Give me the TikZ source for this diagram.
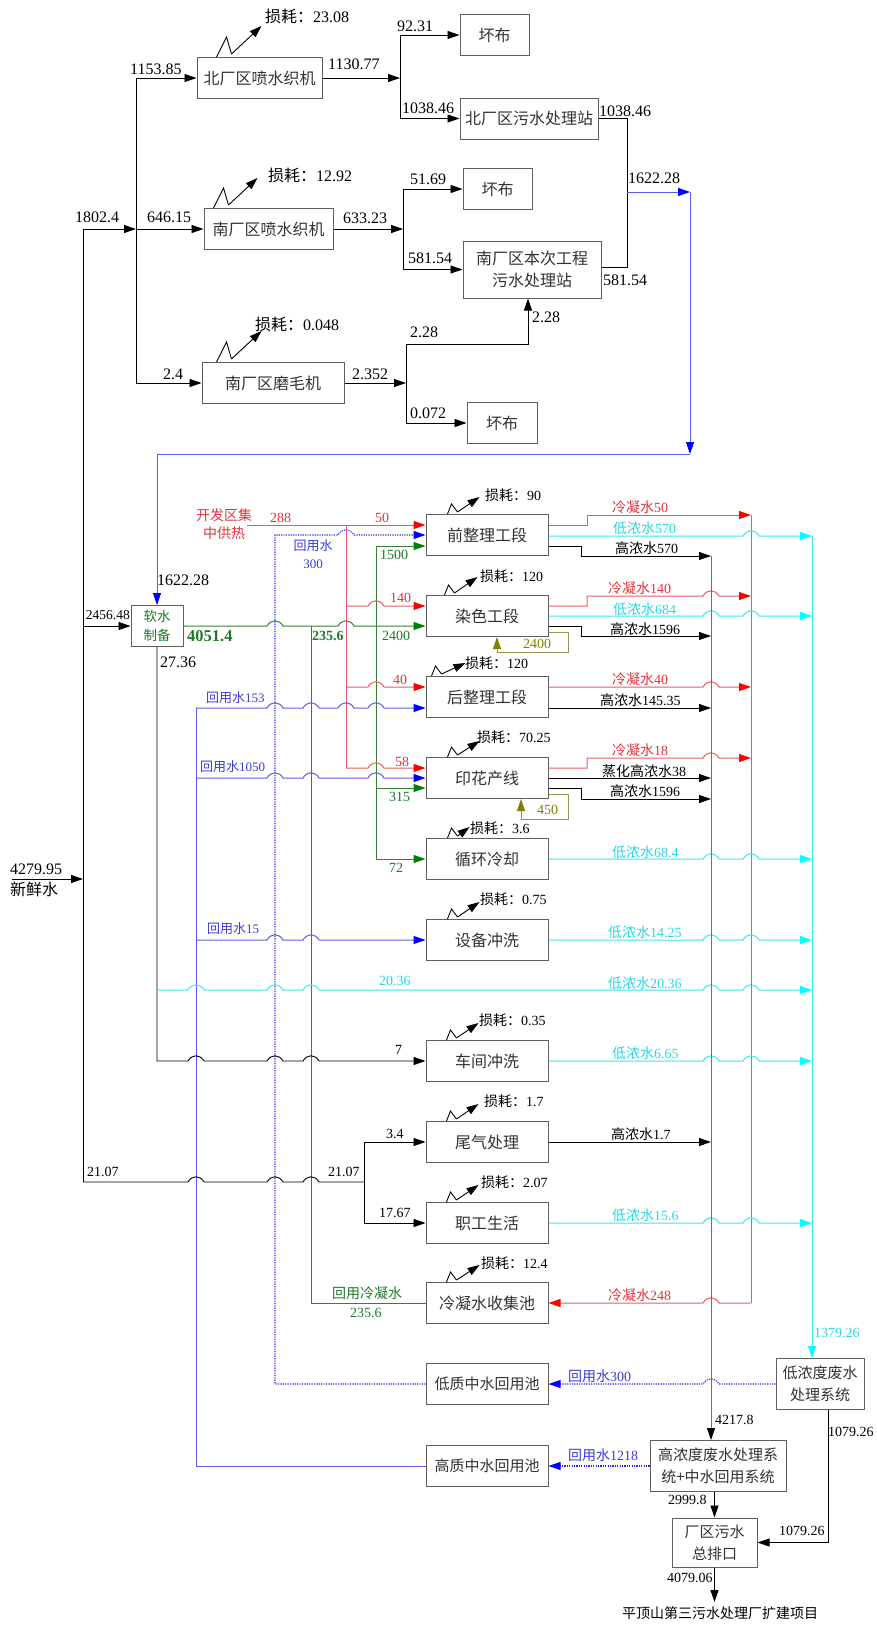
\documentclass[tikz,border=0pt]{standalone}
\usepackage{fontspec}
\setmainfont{Liberation Serif}
\newfontfamily\cjk{Noto Sans CJK SC}
\usetikzlibrary{arrows.meta}
\definecolor{cR}{RGB}{255,0,0}
\definecolor{cRl}{RGB}{235,90,100}
\definecolor{cRt}{RGB}{225,50,60}
\definecolor{cC}{RGB}{0,255,255}
\definecolor{cCl}{RGB}{60,230,235}
\definecolor{cCt}{RGB}{40,215,225}
\definecolor{cB}{RGB}{0,0,255}
\definecolor{cBl}{RGB}{90,90,235}
\definecolor{cBd}{RGB}{40,40,240}
\definecolor{cBt}{RGB}{60,60,210}
\definecolor{cG}{RGB}{0,128,0}
\definecolor{cGl}{RGB}{50,130,50}
\definecolor{cGt}{RGB}{30,120,40}
\definecolor{cO}{RGB}{128,128,0}
\definecolor{cOl}{RGB}{150,150,80}
\definecolor{cK}{RGB}{110,110,110}
\definecolor{cBox}{RGB}{95,95,95}
\definecolor{cTxt}{RGB}{50,50,50}
\newcommand\zh[1]{{\cjk #1}}
\newcommand\jmp[2]{-- ({#1-8},#2) .. controls ({#1-4},{#2-7}) and ({#1+4},{#2-7}) .. ({#1+8},#2)}
\newcommand\jmpl[2]{-- ({#1+8},#2) .. controls ({#1+4},{#2-7}) and ({#1-4},{#2-7}) .. ({#1-8},#2)}
\newcounter{lbc}
\newcommand\lb[3][]{\stepcounter{lbc}\node[lab,#1] (lb\thelbc) at (#2) {#3};}
\newcommand\lossT[4]{\draw[kl] ([xshift=#2pt]#1.north west) -- ++(10,-20) -- ++(5,17) coordinate (#1z); \draw[ka] (#1z) -- ++(#3,#4);}
\newcommand\lossM[4]{\draw[kl] ([xshift=#2pt]#1.north west) -- ++(4,-10) -- ++(6,8) coordinate (#1z); \draw[ka] (#1z) -- ++(#3,#4);}
\begin{document}
\begin{tikzpicture}[x=1pt,y=-1pt,
 kl/.style={draw=black,line width=0.9pt},
 ka/.style={kl,-{Triangle[length=12pt,width=8pt]}},
 gk/.style={draw=cK,line width=1pt,-{Triangle[length=12pt,width=8pt,color=black]}},
 rl/.style={draw=cRl,line width=1pt},
 ra/.style={rl,-{Triangle[length=12pt,width=8pt,color=cR]}},
 cl/.style={draw=cCl,line width=1pt},
 ca/.style={cl,-{Triangle[length=12pt,width=8pt,color=cC]}},
 bll/.style={draw=cBl,line width=1pt},
 bla/.style={bll,-{Triangle[length=12pt,width=8pt,color=cB]}},
 bda/.style={draw=cBd,line width=1.1pt,dash pattern=on 1.2pt off 1.2pt,-{Triangle[length=12pt,width=8pt,color=cB]}},
 gl/.style={draw=cGl,line width=1pt},
 ga/.style={gl,-{Triangle[length=12pt,width=8pt,color=cG]}},
 oa/.style={draw=cOl,line width=1pt,-{Triangle[length=12pt,width=8pt,color=cO]}},
 box/.style={draw=cBox,line width=1pt,inner sep=0pt,minimum height=41pt,align=center,text=cTxt,font=\cjk\fontsize{16}{22}\selectfont},
 boxs/.style={box,font=\cjk\fontsize{15}{22}\selectfont},
 lab/.style={inner sep=0pt,anchor=west,font=\fontsize{14}{18}\selectfont},
 big/.style={font=\fontsize{16}{20}\selectfont},
 sm/.style={font=\fontsize{13}{17}\selectfont}]
\useasboundingbox (0,0) rectangle (877,1625);
% ---------- boxes
\node[box,minimum width=125pt] (bN) at (259.5,78) {北厂区喷水织机};
\node[box,minimum width=129pt] (bS) at (268.5,229) {南厂区喷水织机};
\node[box,minimum width=142pt] (bM) at (273,383) {南厂区磨毛机};
\node[box,minimum width=69pt] (bd1) at (494.5,35) {坏布};
\node[box,minimum width=138pt] (bNW) at (529,118.5) {北厂区污水处理站};
\node[box,minimum width=69pt] (bd2) at (497.5,189) {坏布};
\node[box,minimum width=138pt,minimum height=57pt] (bSW) at (532,269.5) {南厂区本次工程\\污水处理站};
\node[box,minimum width=70pt] (bd3) at (502,423) {坏布};
\node[box,minimum width=52pt,text=cGt,font=\cjk\fontsize{13.5}{19}\selectfont] (soft) at (157,626) {软水\\制备};
\node[box,minimum width=122pt] (qz) at (487,535) {前整理工段};
\node[box,minimum width=122pt] (rs) at (487,616) {染色工段};
\node[box,minimum width=122pt] (hz) at (487,697) {后整理工段};
\node[box,minimum width=122pt] (yh) at (487,778) {印花产线};
\node[box,minimum width=122pt] (xh) at (487,859) {循环冷却};
\node[box,minimum width=122pt] (sb) at (487,940) {设备冲洗};
\node[box,minimum width=122pt] (cj) at (487,1061) {车间冲洗};
\node[box,minimum width=122pt] (wq) at (487,1142) {尾气处理};
\node[box,minimum width=122pt] (zg) at (487,1223) {职工生活};
\node[box,minimum width=122pt] (ln) at (487,1303) {冷凝水收集池};
\node[boxs,minimum width=122pt] (dz) at (487,1384) {低质中水回用池};
\node[boxs,minimum width=122pt] (gz) at (487,1466) {高质中水回用池};
\node[boxs,minimum width=88pt,minimum height=51pt] (low) at (820,1384) {低浓度废水\\处理系统};
\node[boxs,minimum width=136pt,minimum height=51pt] (high) at (718,1466) {高浓度废水处理系\\统+中水回用系统};
\node[boxs,minimum width=85pt,minimum height=49pt] (out) at (714.5,1542.5) {厂区污水\\总排口};
\node[lab,anchor=center,text=cRt,align=center,font=\cjk\fontsize{14}{18}\selectfont] (heat) at (224,524) {开发区集\\中供热};
% ---------- top connectors
\coordinate (a1) at (83,229);
\coordinate (a2) at (136,229);
\coordinate (v1t) at (136,78);
\coordinate (v1b) at (136,383);
\draw[ka] (a1) -- (a2);
\draw[kl] (v1t) -- (v1b);
\draw[ka] (v1t) -- (bN.west);
\draw[ka] (a2) -- (bS.west);
\draw[ka] (v1b) -- (bM.west);
\coordinate (s1) at (400,78);
\coordinate (s1t) at (400,35);
\coordinate (s1b) at (400,118.5);
\draw[ka] (bN.east) -- (s1);
\draw[kl] (s1t) -- (s1b);
\draw[ka] (s1t) -- (bd1.west);
\draw[ka] (s1b) -- (bNW.west);
\coordinate (s2) at (403,229);
\coordinate (s2t) at (403,189);
\coordinate (s2b) at (403,269.5);
\draw[ka] (bS.east) -- (s2);
\draw[kl] (s2t) -- (s2b);
\draw[ka] (s2t) -- (bd2.west);
\draw[ka] (s2b) -- (bSW.west);
\coordinate (s3) at (406,383);
\coordinate (s3t) at (406,344);
\coordinate (s3b) at (406,423);
\coordinate (s3r) at (528,344);
\draw[ka] (bM.east) -- (s3);
\draw[kl] (s3t) -- (s3b);
\draw[ka] (s3t) -- (s3r) -- (s3r |- bSW.south);
\draw[ka] (s3b) -- (bd3.west);
\coordinate (r1) at (627,118.5);
\coordinate (r2) at (627,267);
\draw[kl] (bNW.east) -- (r1) -- (r2) -- (r2 -| bSW.east);
\coordinate (bl0) at (627,192);
\coordinate (bl1) at (690,192);
\coordinate (bl2) at (690,454);
\coordinate (bl3) at (157,454);
\draw[bla] (bl0) -- (bl1);
\draw[bla] (bl1) -- (bl2);
\draw[bla] (bl2) -- (bl3) -- (soft.north);
\lossT{bN}{20}{30}{-28}
\lossT{bS}{10}{29}{-27}
\lossT{bM}{15}{30}{-28}
% ---------- left
\coordinate (a0) at (83,1182);
\coordinate (a3) at (83,626);
\coordinate (fw) at (12,879);
\coordinate (fwj) at (83,879);
\draw[kl] (a1) -- (a0);
\draw[ka] (fw) -- (fwj);
\draw[ka] (a3) -- (soft.west);
% ---------- green
\draw[ga] (soft.east) \jmp{275}{626} \jmp{346}{626} -- (rs.west |- 0,626);
\coordinate (g1) at (376,546);
\coordinate (g2) at (376,859);
\coordinate (g3) at (376,788);
\draw[gl] (g1) -- (g2);
\draw[ga] (g1) -- (qz.west |- g1);
\draw[ga] (g3) -- (yh.west |- g3);
\draw[ga] (g2) -- (xh.west);
\draw[gl] (ln.west) -| (311,626);
% ---------- red
\coordinate (rh) at (247,525);
\coordinate (rvt) at (346,525);
\coordinate (rvb) at (346,768);
\draw[ra] (rh) -- (qz.west |- rh);
\draw[rl] (rvt) -- (rvb);
\draw[ra] (346,606) \jmp{376}{606} -- (rs.west |- 0,606);
\draw[ra] (346,687) \jmp{376}{687} -- (hz.west |- 0,687);
\draw[ra] (rvb) \jmp{376}{768} -- (yh.west |- rvb);
% ---------- blue
\draw[bda] (dz.west) -| (275,535) \jmp{346}{535} -- (qz.west |- 0,535);
\draw[bll] (gz.west) -| (196,708);
\draw[bla] (196,708) \jmp{275}{708} \jmp{311}{708} \jmp{346}{708} \jmp{376}{708} -- (hz.west |- 0,708);
\draw[bla] (196,778) \jmp{275}{778} \jmp{311}{778} \jmp{376}{778} -- (yh.west);
\draw[bla] (196,940) \jmp{275}{940} \jmp{311}{940} -- (sb.west);
% ---------- black / cyan lower left
\draw[ka] (soft.south) -- (157,1061) \jmp{196}{1061} \jmp{275}{1061} \jmp{311}{1061} -- (cj.west);
\draw[ca] (157,990) \jmp{196}{990} \jmp{275}{990} \jmp{311}{990} \jmp{711}{990} \jmp{751}{990} -- (812,990);
\draw[kl] (a0) \jmp{196}{1182} \jmp{275}{1182} \jmp{311}{1182} -- (364,1182);
\coordinate (s4t) at (364,1142);
\coordinate (s4b) at (364,1223);
\draw[kl] (s4t) -- (s4b);
\draw[ka] (s4t) -- (wq.west);
\draw[ka] (s4b) -- (zg.west);
% ---------- right side
\coordinate (rv1) at (751,515);
\coordinate (rv2) at (751,1303);
\coordinate (cv1) at (812,536);
\coordinate (kv1) at (711,556);
\draw[rl] (rv1) -- (rv2);
\draw[ra] (qz.east |- 0,525) -- (587,525) -- (587,515) -- (rv1);
\draw[ca] (qz.east |- 0,536) \jmp{751}{536} -- (cv1);
\draw[ka] (qz.east |- 0,546) -- (581,546) -- (581,556) -- (kv1);
\draw[ra] (rs.east |- 0,606) -- (587,606) -- (587,596) \jmp{711}{596} -- (751,596);
\draw[ca] (rs.east) \jmp{711}{616} \jmp{751}{616} -- (812,616);
\draw[ka] (rs.east |- 0,626) -- (581,626) -- (581,636) -- (711,636);
\draw[oa] (rs.east |- 0,632) -- (568,632) -- (568,652) -- (497,652) -- (rs.south -| 497,0);
\draw[ra] (hz.east |- 0,687) \jmp{711}{687} -- (751,687);
\draw[ka] (hz.east |- 0,708) -- (711,708);
\draw[ra] (yh.east |- 0,768) -- (587,768) -- (587,758) \jmp{711}{758} -- (751,758);
\draw[ka] (yh.east) -- (711,778);
\draw[ka] (yh.east |- 0,788) -- (581,788) -- (581,799) -- (711,799);
\draw[oa] (yh.east |- 0,794) -- (568,794) -- (568,819) -- (521,819) -- (yh.south -| 521,0);
\draw[ca] (xh.east) \jmp{711}{859} \jmp{751}{859} -- (812,859);
\draw[ca] (sb.east) \jmp{711}{940} \jmp{751}{940} -- (812,940);
\draw[ca] (cj.east) \jmp{711}{1061} \jmp{751}{1061} -- (812,1061);
\draw[ka] (wq.east) -- (711,1142);
\draw[ca] (zg.east) \jmp{711}{1223} \jmp{751}{1223} -- (812,1223);
\draw[ra] (rv2) \jmpl{711}{1303} -- (ln.east);
\draw[gk] (kv1) -- (high.north -| kv1);
\draw[ca] (cv1) -- (low.north -| cv1);
\draw[bda] (low.west) \jmpl{711}{1384} -- (dz.east);
\draw[bda] (high.west) -- (gz.east);
\draw[ka] (out.north |- high.south) -- (out.north);
\coordinate (endp) at (714.5,1602);
\draw[ka] (out.south) -- (endp);
\coordinate (lw) at (828,1409);
\draw[ka] (low.south -| lw) |- (out.east);
% ---------- losses
\lossM{qz}{22}{22}{-15}
\lossM{rs}{19}{23}{-16}
\lossM{hz}{6}{24}{-11}
\lossM{yh}{22}{22}{-14}
\lossM{xh}{22}{12}{-9}
\lossM{sb}{22}{22}{-15}
\lossM{cj}{21}{22}{-15}
\lossM{wq}{21}{22}{-15}
\lossM{zg}{21}{22}{-15}
\lossM{ln}{21}{23}{-15}
% ---------- labels
\lb[big]{265,16}{\zh{损耗：}23.08}
\lb[big]{130,69}{1153.85}
\lb[big]{328,64}{1130.77}
\lb[big]{397,26}{92.31}
\lb[big]{402,108}{1038.46}
\lb[big]{599,111}{1038.46}
\lb[big]{628,178}{1622.28}
\lb[big]{410,179}{51.69}
\lb[big]{75,217}{1802.4}
\lb[big]{147,217}{646.15}
\lb[big]{343,218}{633.23}
\lb[big]{268,175}{\zh{损耗：}12.92}
\lb[big]{408,258}{581.54}
\lb[big]{603,280}{581.54}
\lb[big]{532,317}{2.28}
\lb[big]{410,332}{2.28}
\lb[big]{255,324}{\zh{损耗：}0.048}
\lb[big]{163,374}{2.4}
\lb[big]{352,374}{2.352}
\lb[big]{410,413}{0.072}
\lb[big]{157,580}{1622.28}
\lb[big]{160,662}{27.36}
\lb[big]{10,869}{4279.95}
\lb[big]{10,889}{\zh{新鲜水}}
\lb[text=cRt]{270,518}{288}
\lb[text=cRt]{375,518}{50}
\node[lab,anchor=center,text=cBt,align=center,font=\fontsize{13}{18}\selectfont] (rw300) at (313,554) {\zh{回用水}\\300};
\lb[text=cGt]{380,555}{1500}
\lb[anchor=east,font=\fontsize{13.5}{16}\selectfont]{130,615}{2456.48}
\lb[text=cGt,font=\bfseries\fontsize{16.5}{20}\selectfont]{187,636}{4051.4}
\lb[text=cGt]{382,636}{2400}
\lb[text=cGt,font=\bfseries\fontsize{14}{18}\selectfont]{312,636}{235.6}
\lb[text=cRt]{390,598}{140}
\lb[text=cRt]{393,680}{40}
\lb[text=cRt]{395,762}{58}
\lb[text=cBt,sm]{206,698}{\zh{回用水}153}
\lb[text=cBt,sm]{200,767}{\zh{回用水}1050}
\lb[text=cGt]{389,797}{315}
\lb[text=cGt]{389,868}{72}
\lb[text=cBt,sm]{207,929}{\zh{回用水}15}
\lb[text=cO]{523,644}{2400}
\lb[text=cO]{537,810}{450}
\lb{485,495}{\zh{损耗：}90}
\lb{480,576}{\zh{损耗：}120}
\lb{465,663}{\zh{损耗：}120}
\lb{477,737}{\zh{损耗：}70.25}
\lb{470,828}{\zh{损耗：}3.6}
\lb{480,899}{\zh{损耗：}0.75}
\lb{479,1020}{\zh{损耗：}0.35}
\lb{484,1101}{\zh{损耗：}1.7}
\lb{481,1182}{\zh{损耗：}2.07}
\lb{481,1263}{\zh{损耗：}12.4}
\lb[text=cRt]{612,507}{\zh{冷凝水}50}
\lb[text=cCt]{613,528}{\zh{低浓水}570}
\lb{615,548}{\zh{高浓水}570}
\lb[text=cRt]{608,588}{\zh{冷凝水}140}
\lb[text=cCt]{613,609}{\zh{低浓水}684}
\lb{610,629}{\zh{高浓水}1596}
\lb[text=cRt]{612,679}{\zh{冷凝水}40}
\lb{600,700}{\zh{高浓水}145.35}
\lb[text=cRt]{612,750}{\zh{冷凝水}18}
\lb{602,771}{\zh{蒸化高浓水}38}
\lb{610,791}{\zh{高浓水}1596}
\lb[text=cCt]{612,852}{\zh{低浓水}68.4}
\lb[text=cCt]{608,932}{\zh{低浓水}14.25}
\lb[text=cCt]{608,983}{\zh{低浓水}20.36}
\lb[text=cCt]{612,1053}{\zh{低浓水}6.65}
\lb{611,1134}{\zh{高浓水}1.7}
\lb[text=cCt]{612,1215}{\zh{低浓水}15.6}
\lb[text=cRt]{608,1295}{\zh{冷凝水}248}
\lb[text=cCt]{379,981}{20.36}
\lb{395,1050}{7}
\lb{386,1134}{3.4}
\lb{328,1172}{21.07}
\lb{87,1172}{21.07}
\lb{379,1213}{17.67}
\lb[text=cGt]{332,1293}{\zh{回用冷凝水}}
\lb[text=cGt]{350,1313}{235.6}
\lb[text=cBt]{568,1376}{\zh{回用水}300}
\lb[text=cBt]{568,1455}{\zh{回用水}1218}
\lb[text=cCt]{814,1333}{1379.26}
\lb{715,1420}{4217.8}
\lb{828,1432}{1079.26}
\lb{668,1500}{2999.8}
\lb{779,1531}{1079.26}
\lb{667,1578}{4079.06}
\node[lab,anchor=center] (final) at (720,1613) {\zh{平顶山第三污水处理厂扩建项目}};
\end{tikzpicture}
\end{document}
